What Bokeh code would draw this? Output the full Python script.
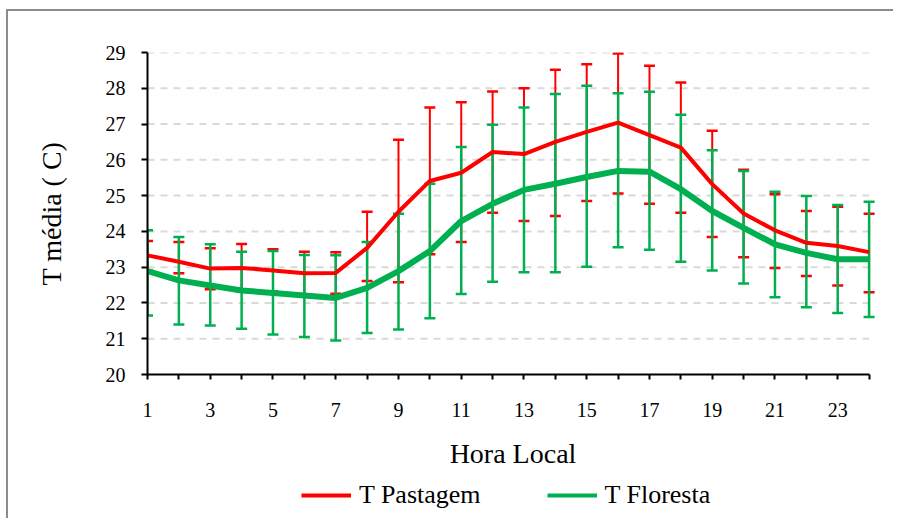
from bokeh.plotting import figure
from bokeh.layouts import column
from bokeh.models import (Range1d, FixedTicker, Legend, LegendItem, ColumnDataSource)
from bokeh.embed import file_html
from bokeh.resources import INLINE

# ---- data ----
hours = list(range(1, 25))
x_tick_labels = {h: (str(h) if h % 2 == 1 else "") for h in hours}

pastagem_mean = [23.33, 23.15, 22.96, 22.98, 22.91, 22.83, 22.84, 23.54, 24.55, 25.41, 25.64, 26.22,
                 26.16, 26.50, 26.78, 27.04, 26.69, 26.34, 25.32, 24.50, 24.03, 23.68, 23.59, 23.42]
pastagem_upper = [23.73, 23.70, 23.53, 23.65, 23.50, 23.43, 23.42, 24.55, 26.56, 27.46, 27.61, 27.91,
                  28.00, 28.52, 28.67, 28.97, 28.63, 28.16, 26.81, 25.72, 25.04, 24.57, 24.69, 24.49]
pastagem_lower = [22.91, 22.83, 22.38, 22.31, 22.32, 22.23, 22.26, 22.61, 22.58, 23.36, 23.70, 24.52,
                  24.29, 24.43, 24.85, 25.06, 24.77, 24.52, 23.84, 23.28, 22.98, 22.75, 22.49, 22.30]

floresta_mean = [22.89, 22.63, 22.49, 22.35, 22.28, 22.21, 22.14, 22.42, 22.89, 23.45, 24.29, 24.77,
                 25.16, 25.33, 25.52, 25.69, 25.67, 25.18, 24.57, 24.10, 23.64, 23.40, 23.22, 23.22]
floresta_upper = [24.03, 23.84, 23.64, 23.43, 23.45, 23.34, 23.33, 23.70, 24.49, 25.33, 26.36, 26.98,
                  27.46, 27.84, 28.07, 27.86, 27.90, 27.26, 26.27, 25.69, 25.11, 24.99, 24.74, 24.83]
floresta_lower = [21.65, 21.40, 21.37, 21.28, 21.12, 21.05, 20.95, 21.16, 21.26, 21.57, 22.25, 22.59,
                  22.86, 22.86, 23.01, 23.56, 23.49, 23.15, 22.91, 22.54, 22.16, 21.88, 21.72, 21.61]

y_ticks = [20, 21, 22, 23, 24, 25, 26, 27, 28, 29]

RED = "#ff0000"
GREEN = "#00b050"
FONT = "Liberation Serif"

p = figure(width=885, height=463, output_backend="svg", toolbar_location=None,
           x_range=Range1d(hours[0], hours[-1] + 0.3), y_range=Range1d(y_ticks[0], y_ticks[-1]),
           min_border_left=139, min_border_right=15, min_border_top=41, min_border_bottom=100)
p.outline_line_color = None
p.background_fill_color = "white"
p.border_fill_color = "white"

# axes
p.xaxis.ticker = FixedTicker(ticks=hours)
p.xaxis.major_label_overrides = x_tick_labels
p.xaxis.bounds = (hours[0], hours[-1])
p.yaxis.ticker = FixedTicker(ticks=y_ticks)
for ax in (p.xaxis, p.yaxis):
    ax.axis_line_color = "black"
    ax.axis_line_width = 2
    ax.major_tick_line_color = "black"
    ax.major_tick_line_width = 2
    ax.major_tick_in = 0
    ax.minor_tick_line_color = None
    ax.major_label_text_font = FONT
    ax.major_label_text_font_size = "20px"
    ax.major_label_text_color = "black"
    ax.axis_label_text_font = FONT
    ax.axis_label_text_font_size = "28px"
    ax.axis_label_text_font_style = "normal"
    ax.axis_label_text_color = "black"
p.xaxis.major_tick_out = 5
p.yaxis.major_tick_out = 6
p.xaxis.major_label_standoff = 23
p.yaxis.major_label_standoff = 16
p.xaxis.axis_label = "Hora Local"
p.yaxis.axis_label = "T média ( C)"
p.xaxis.axis_label_standoff = 18
p.yaxis.axis_label_standoff = 36

p.xgrid.grid_line_color = None
p.ygrid.grid_line_color = None

# dashed horizontal gridlines from first to last hour
grid_y = y_ticks[1:]
p.segment(x0=[hours[0]] * len(grid_y), y0=grid_y, x1=[hours[-1]] * len(grid_y), y1=grid_y,
          line_color="#d9d9d9", line_width=2, line_dash="7 6")

src_p = ColumnDataSource(dict(x=hours, m=pastagem_mean, u=pastagem_upper, l=pastagem_lower))
src_f = ColumnDataSource(dict(x=hours, m=floresta_mean, u=floresta_upper, l=floresta_lower))

# error bars
p.segment(x0="x", y0="l", x1="x", y1="u", source=src_p, line_color=RED, line_width=2)
p.scatter(x="x", y="u", source=src_p, marker="dash", size=11, line_color=RED, line_width=2.5)
p.scatter(x="x", y="l", source=src_p, marker="dash", size=11, line_color=RED, line_width=2.5)
p.segment(x0="x", y0="l", x1="x", y1="u", source=src_f, line_color=GREEN, line_width=2.5)
p.scatter(x="x", y="u", source=src_f, marker="dash", size=11, line_color=GREEN, line_width=2.5)
p.scatter(x="x", y="l", source=src_f, marker="dash", size=11, line_color=GREEN, line_width=2.5)

# mean lines
p.line(x="x", y="m", source=src_p, line_color=RED, line_width=4, line_join="round")
p.line(x="x", y="m", source=src_f, line_color=GREEN, line_width=6, line_join="round")

# ---- legend strip (separate figure so the legend is not clipped) ----
lg = figure(width=885, height=44, output_backend="svg", toolbar_location=None,
            x_range=Range1d(0, 1), y_range=Range1d(0, 1),
            x_axis_location=None, y_axis_location=None, min_border=0)
lg.outline_line_color = None
lg.xgrid.grid_line_color = None
lg.ygrid.grid_line_color = None
lg_p = lg.line(x="x", y="m", source=src_p, line_color=RED, line_width=4)
lg_f = lg.line(x="x", y="m", source=src_f, line_color=GREEN, line_width=4)

legend = Legend(items=[LegendItem(label="T Pastagem", renderers=[lg_p]),
                       LegendItem(label="T Floresta", renderers=[lg_f])],
                orientation="horizontal", location=(154, 8))
legend.label_text_font = FONT
legend.label_text_font_size = "26px"
legend.label_text_color = "black"
legend.glyph_width = 50
legend.label_standoff = 8
legend.spacing = 66
legend.border_line_color = None
legend.background_fill_alpha = 0
legend.margin = 0
legend.padding = 4
lg.add_layout(legend, "center")

root = column(p, lg, spacing=0)
root.styles = {"margin-left": "6px", "margin-top": "9px",
               "border-left": "2px solid #8c8c8c", "border-top": "2px solid #8c8c8c"}

open("out.html", "w").write(file_html(root, INLINE))
